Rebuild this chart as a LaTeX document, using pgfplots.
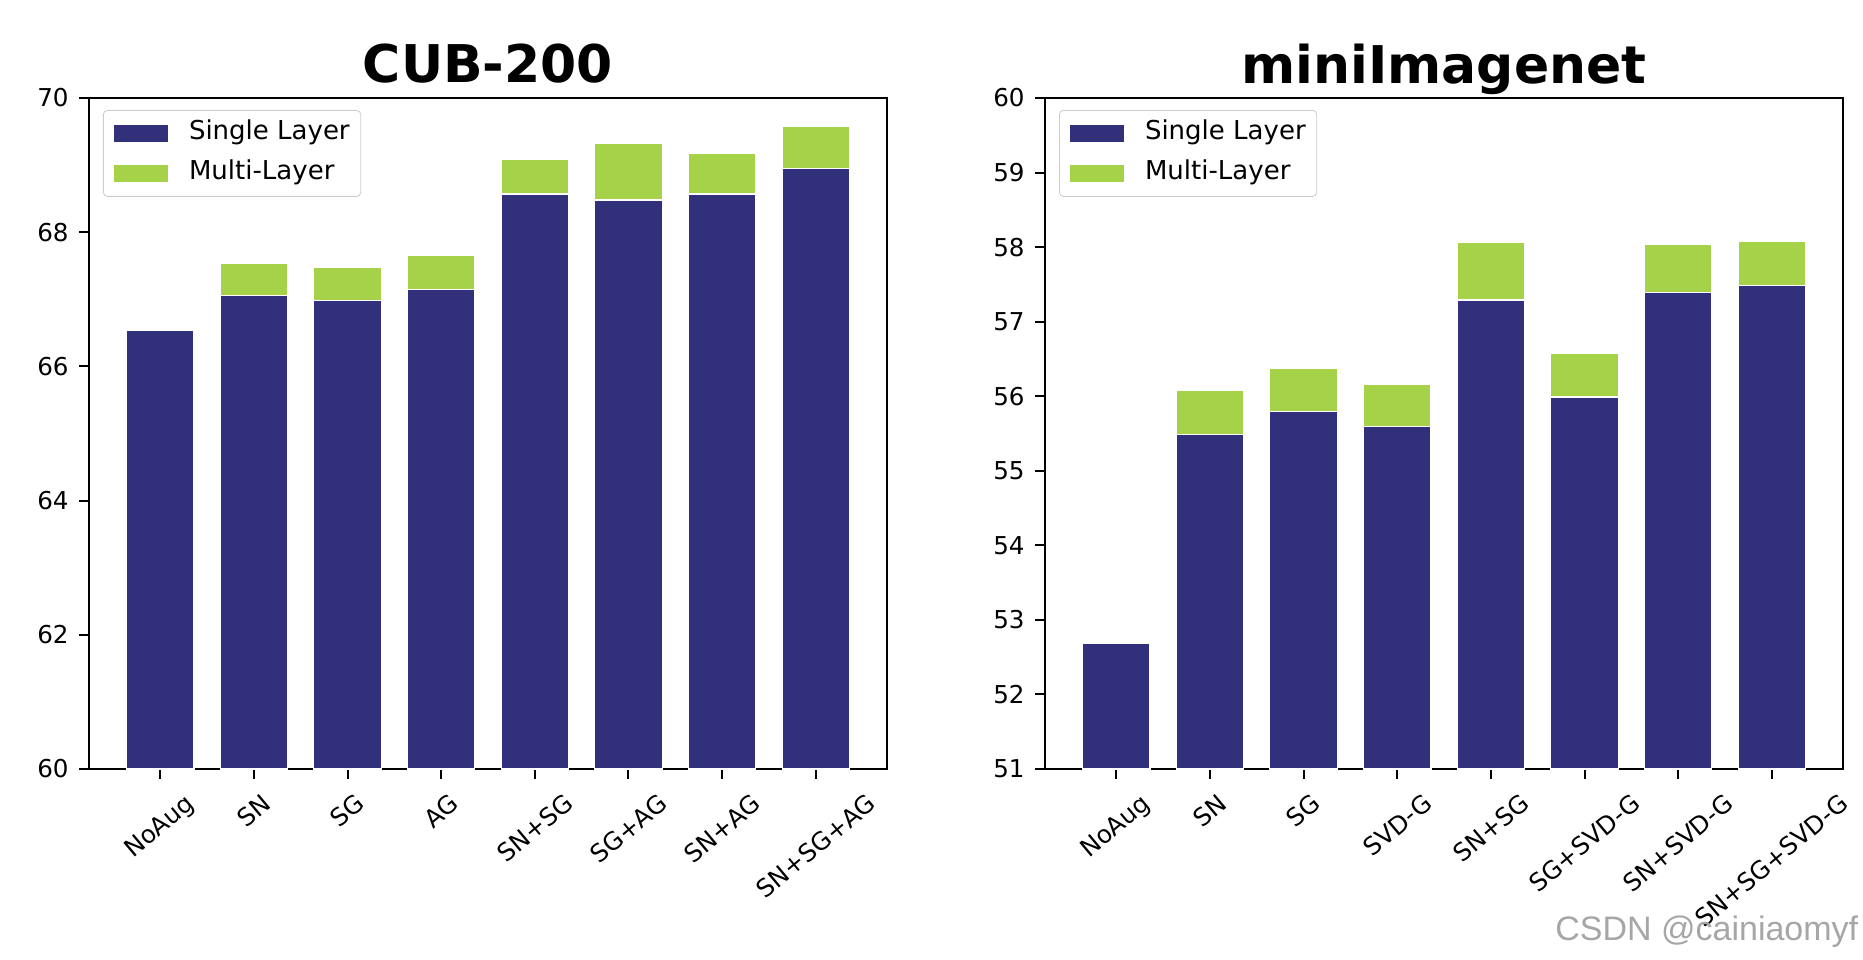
\documentclass[border=0pt]{standalone}
\usepackage{fontspec}
\setmainfont{DejaVu Sans}
\newfontfamily\wmfont{Liberation Sans}
\usepackage{graphicx}
\usepackage{pgfplots}
\pgfplotsset{compat=1.18}
\definecolor{single}{RGB}{50,48,123}
\definecolor{multi}{RGB}{165,210,72}
\newcommand{\tfont}{\fontsize{12.3}{14}\selectfont}
\newcommand{\lfont}{\fontsize{13}{15}\selectfont}
\pgfplotsset{
  mystyle/.style={
    scale only axis, width=399pt, height=335.5pt,
    axis line style={line width=1pt},
    tick style={line width=1pt, black},
    tick align=outside, major tick length=5pt,
    xtick pos=lower, ytick pos=left,
    xmin=-0.76, xmax=7.76, xtick={0,...,7},
    ybar, bar width=0.72,
    ticklabel style={font=\tfont},
    /pgf/number format/assume math mode=true,
    xticklabel style={anchor=north, inner sep=0pt, yshift=-6.5pt},
    yticklabel style={inner sep=0pt, xshift=-5pt},
    legend image code/.code={\fill[##1, draw=none, sharp corners] (0pt,-4.25pt) rectangle (27pt,4.25pt); \path (37pt,0pt);},
    legend style={at={(0,1)}, anchor=north west, xshift=7pt, yshift=-6pt,
      draw=black!20, rounded corners=2pt, fill=white, font=\lfont,
      inner xsep=5.5pt, inner ysep=5.5pt, row sep=8pt,
      nodes={inner sep=0pt, text height=9pt, text depth=3pt}},
    legend cell align=left,
    reverse legend,
    title style={font=\bfseries\fontsize{26}{30}\selectfont, at={(0.5,1)}, anchor=base, yshift=1.5pt},
  }
}
\begin{document}
\begin{tikzpicture}
\useasboundingbox (-44.5pt,-95pt) rectangle (887pt,384.5pt);
\begin{axis}[mystyle, at={(0pt,0pt)}, anchor=south west,
  title={CUB-200},
  ymin=60, ymax=70, ytick={60,62,...,70},
  xticklabels={\rotatebox{40}{NoAug},\rotatebox{40}{SN},\rotatebox{40}{SG},\rotatebox{40}{AG},\rotatebox{40}{SN+SG},\rotatebox{40}{SG+AG},\rotatebox{40}{SN+AG},\rotatebox{40}{SN+SG+AG}},
]
\addplot[fill=multi, draw=white, line width=0.6pt, bar shift=0pt] coordinates {(1,67.54) (2,67.48) (3,67.66) (4,69.08) (5,69.33) (6,69.18) (7,69.58)};
\addlegendentry{Multi-Layer}
\addplot[fill=single, draw=white, line width=0.6pt, bar shift=0pt] coordinates {(0,66.53) (1,67.06) (2,66.98) (3,67.15) (4,68.57) (5,68.48) (6,68.57) (7,68.95)};
\addlegendentry{Single Layer}
\end{axis}
\begin{axis}[mystyle, at={(478pt,0pt)}, anchor=south west,
  title={miniImagenet},
  ymin=51, ymax=60, ytick={51,52,...,60},
  xticklabels={\rotatebox{40}{NoAug},\rotatebox{40}{SN},\rotatebox{40}{SG},\rotatebox{40}{SVD-G},\rotatebox{40}{SN+SG},\rotatebox{40}{SG+SVD-G},\rotatebox{40}{SN+SVD-G},\rotatebox{40}{SN+SG+SVD-G}},
]
\addplot[fill=multi, draw=white, line width=0.6pt, bar shift=0pt] coordinates {(1,56.08) (2,56.37) (3,56.16) (4,58.06) (5,56.57) (6,58.04) (7,58.08)};
\addlegendentry{Multi-Layer}
\addplot[fill=single, draw=white, line width=0.6pt, bar shift=0pt] coordinates {(0,52.69) (1,55.49) (2,55.79) (3,55.59) (4,57.29) (5,55.99) (6,57.39) (7,57.49)};
\addlegendentry{Single Layer}
\end{axis}
\node[anchor=base west, inner sep=0pt, text=black!35, font=\wmfont\fontsize{17}{19}\selectfont] at (733pt,-85.5pt) {CSDN @cainiaomyf};
\end{tikzpicture}
\end{document}
